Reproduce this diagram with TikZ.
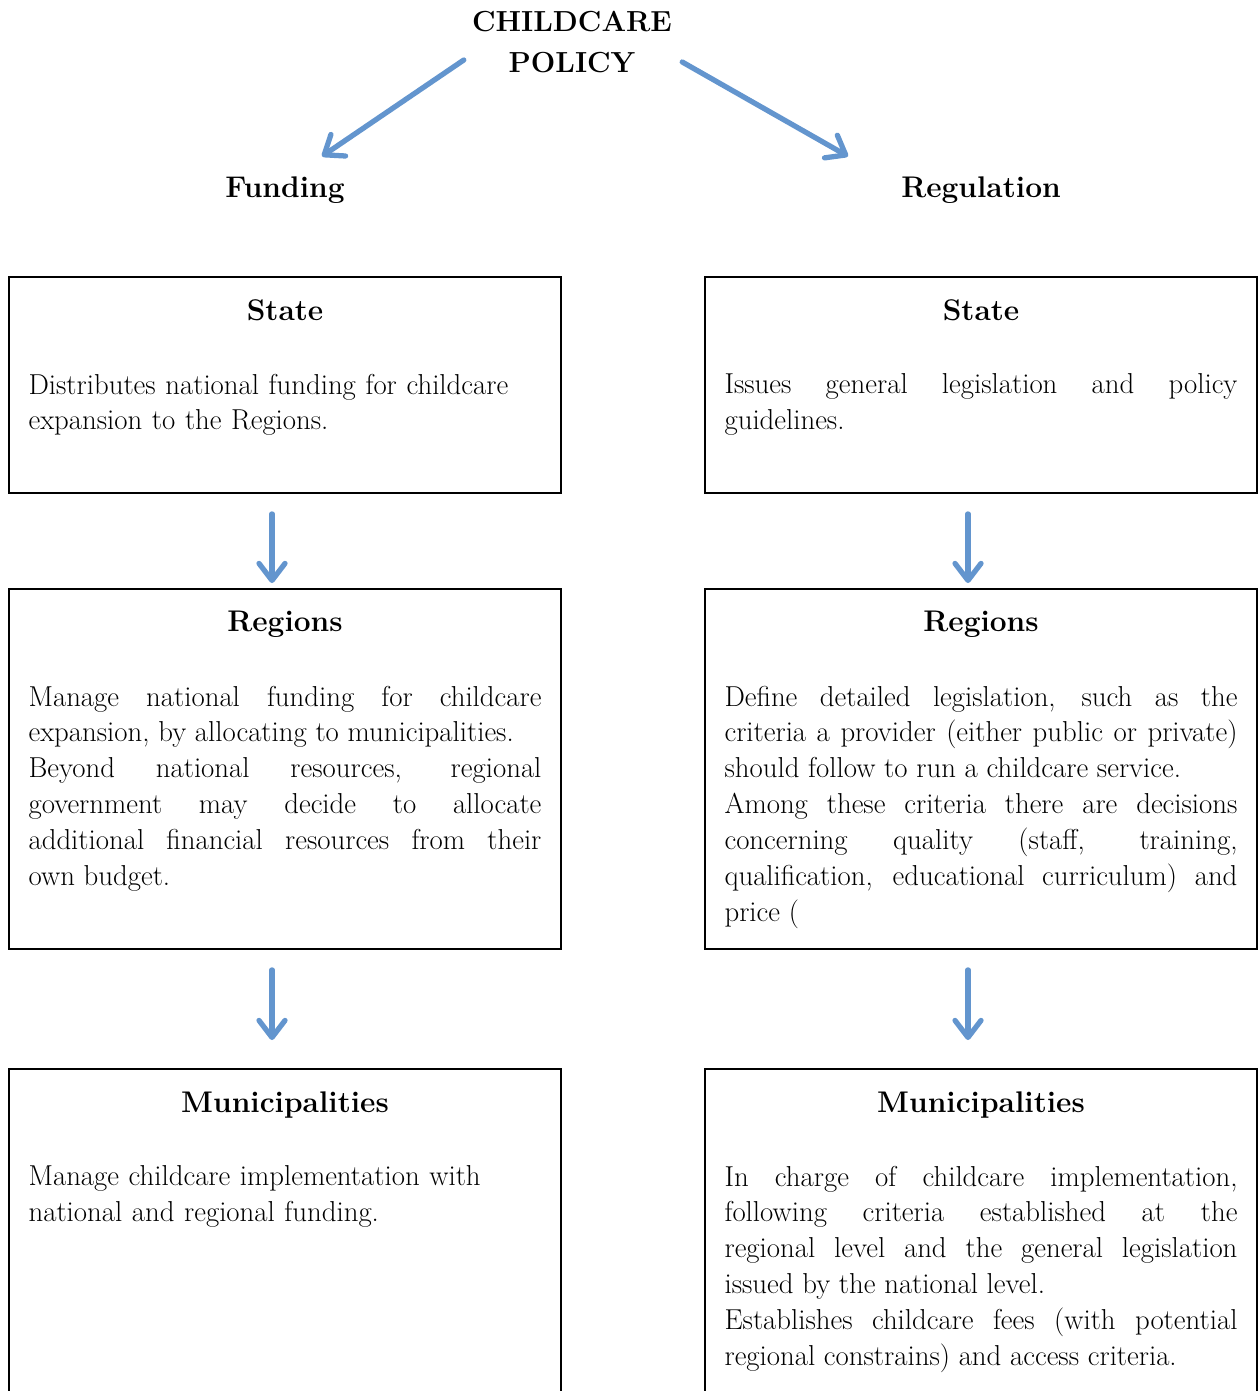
\documentclass[tikz,border=0pt]{standalone}
\usepackage{tikz}
\usetikzlibrary{arrows.meta, positioning}
\definecolor{cpBlue}{HTML}{6395CE}
\tikzset{
  cp-box/.style={
    rectangle, draw=black, line width=1.1pt, minimum width=11.04cm,
    inner sep=0pt
  },
  cp-head/.style={inner sep=0pt, font=\fontsize{17}{20}\selectfont\bfseries},
  cp-text/.style={
    inner sep=0pt, text width=10.26cm, align=justify,
    font=\fontsize{16.4}{20.4}\selectfont
  },
  cp-flow/.style={-{Straight Barb[length=3.4mm,width=5.2mm,round]}, line width=3pt, draw=cpBlue, line cap=round},
}

\begin{document}
\begin{tikzpicture}[x=0.02cm, y=-0.02cm]
  \useasboundingbox (0,0) rectangle (1258,1391);

  \node[cp-head, font=\fontsize{16.5}{23}\selectfont\bfseries, align=center] (title) at (572,42) {CHILDCARE\\POLICY};
  \node[cp-head] (fund) at (285,190) {Funding};
  \node[cp-head] (regul) at (981,190) {Regulation};

  % funding side
  \node[cp-box, minimum height=4.32cm] (fstate) at (285,385) {};
  \node[cp-head, below=0.46cm of fstate.north] (fstateh) {State};
  \node[cp-text, align=left, below=1.95cm of fstate.north] (fstatet) {Distributes national funding for childcare\\expansion to the Regions.};

  \node[cp-box, minimum height=7.2cm] (freg) at (285,769) {};
  \node[cp-head, below=0.46cm of freg.north] (fregh) {Regions};
  \node[cp-text, below=1.95cm of freg.north] (fregt) {Manage national funding for childcare\linebreak
    expansion, by allocating to municipalities.\\
    Beyond national resources, regional\linebreak
    government may decide to allocate\linebreak
    additional financial resources from their\linebreak
    own budget.};

  \node[cp-box, minimum height=7.02cm] (fmun) at (285,1244.5) {};
  \node[cp-head, below=0.46cm of fmun.north] (fmunh) {Municipalities};
  \node[cp-text, align=left, below=1.95cm of fmun.north] (fmunt) {Manage childcare implementation with\\national and regional funding.};

  % regulation side
  \node[cp-box, minimum height=4.32cm] (rstate) at (981,385) {};
  \node[cp-head, below=0.46cm of rstate.north] (rstateh) {State};
  \node[cp-text, below=1.95cm of rstate.north] (rstatet) {Issues general legislation and policy\linebreak guidelines.};

  \node[cp-box, minimum height=7.2cm] (rreg) at (981,769) {};
  \node[cp-head, below=0.46cm of rreg.north] (rregh) {Regions};
  \node[cp-text, below=1.95cm of rreg.north] (rregt) {Define detailed legislation, such as the\linebreak
    criteria a provider (either public or private)\linebreak
    should follow to run a childcare service.\\
    Among these criteria there are decisions\linebreak
    concerning quality (staff, training,\linebreak
    qualification, educational curriculum) and\linebreak
    price (};

  \node[cp-box, minimum height=7.02cm] (rmun) at (981,1244.5) {};
  \node[cp-head, below=0.46cm of rmun.north] (rmunh) {Municipalities};
  \node[cp-text, below=1.95cm of rmun.north] (rmunt) {In charge of childcare implementation,\linebreak
    following criteria established at the\linebreak
    regional level and the general legislation\linebreak
    issued by the national level.\\
    Establishes childcare fees (with potential\linebreak
    regional constrains) and access criteria.};

  % arrows
  \draw[cp-flow] ([shift={(-8,18)}]title.west) -- ([shift={(37,-20)}]fund.north);
  \draw[cp-flow] ([shift={(10,20)}]title.east) -- ([shift={(-133,-20)}]regul.north);
  \draw[cp-flow] ([shift={(-13,20)}]fstate.south) -- ([shift={(-13,-5)}]freg.north);
  \draw[cp-flow] ([shift={(-13,20)}]freg.south) -- ([shift={(-13,-28)}]fmun.north);
  \draw[cp-flow] ([shift={(-13,20)}]rstate.south) -- ([shift={(-13,-5)}]rreg.north);
  \draw[cp-flow] ([shift={(-13,20)}]rreg.south) -- ([shift={(-13,-28)}]rmun.north);
\end{tikzpicture}
\end{document}
